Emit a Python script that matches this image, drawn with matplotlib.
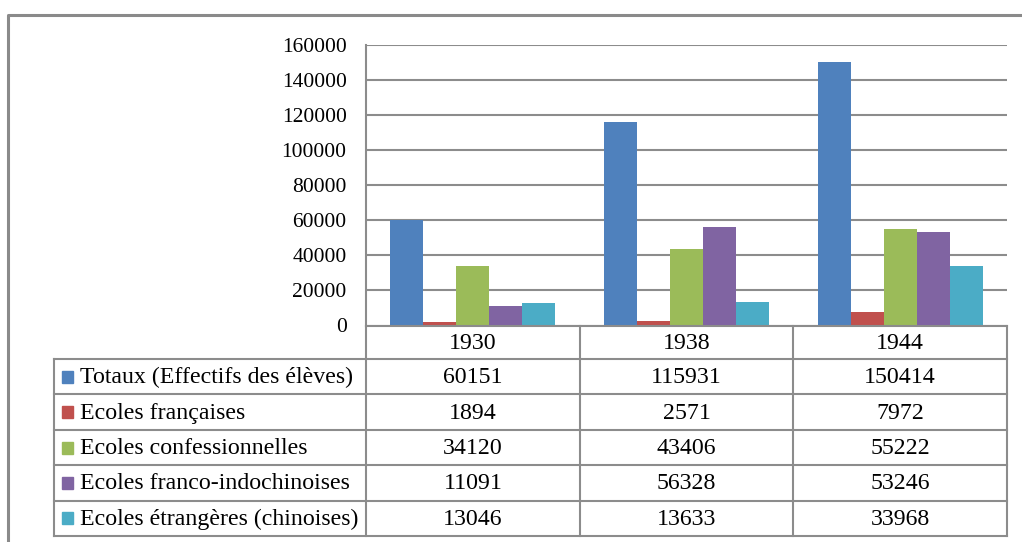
import matplotlib
matplotlib.use("Agg")
import matplotlib.pyplot as plt
from matplotlib.lines import Line2D
from matplotlib.patches import Rectangle
import numpy as np

years = ["1930", "1938", "1944"]
series_names = [
    "Totaux (Effectifs des élèves)",
    "Ecoles françaises",
    "Ecoles confessionnelles",
    "Ecoles franco-indochinoises",
    "Ecoles étrangères (chinoises)",
]
totaux = [60151, 115931, 150414]
francaises = [1894, 2571, 7972]
confessionnelles = [34120, 43406, 55222]
franco_indochinoises = [11091, 56328, 53246]
etrangeres = [13046, 13633, 33968]
series_values = [totaux, francaises, confessionnelles, franco_indochinoises, etrangeres]
colors = ["#4F81BD", "#C0504D", "#9BBB59", "#8064A2", "#4BACC6"]
yticks = [0, 20000, 40000, 60000, 80000, 100000, 120000, 140000, 160000]

W, H = 1022, 542
plt.rcParams['font.family'] = ['Liberation Serif', 'DejaVu Serif']
fig = plt.figure(figsize=(W / 100, H / 100), dpi=100)
fig.patch.set_facecolor("white")

def fx(x):
    return x / W

def fy(y):
    return 1 - y / H

gray = "#8C8C8C"
FS_TICK = 15.5
FS_TAB = 17.2

# plot area
x0, x1 = 366, 1007
ytop, ybot = 44.7, 325.5
ax = fig.add_axes([fx(x0), fy(ybot), fx(x1) - fx(x0), (ybot - ytop) / H])
n = len(series_names)
bw = 0.1544
xs = np.arange(len(years))
for i, (vals, c) in enumerate(zip(series_values, colors)):
    ax.bar(xs + (i - (n - 1) / 2) * bw, vals, width=bw, color=c, zorder=3, linewidth=0)
ax.set_xlim(-0.5, len(years) - 0.5)
ax.set_ylim(0, 160000)
ax.set_yticks(yticks)
ax.set_yticklabels([str(v) for v in yticks], fontsize=FS_TICK)
ax.tick_params(axis='y', length=0, pad=14)
ax.set_xticks([])
ax.yaxis.grid(True, color=gray, linewidth=1.5, zorder=0)
for s in ["top", "right", "bottom"]:
    ax.spines[s].set_visible(False)
ax.spines["left"].set_color(gray)
ax.spines["left"].set_linewidth(1.5)

# data table
col_x = [x0 + (x1 - x0) * k / len(years) for k in range(len(years) + 1)]
left_x = 54
row_y = [ybot, 359, 394.4, 429.8, 465.2, 500.6, 536]
lw = 1.5

def hline(y, xa, xb):
    fig.add_artist(Line2D([fx(xa), fx(xb)], [fy(y), fy(y)], color=gray, lw=lw))

def vline(x, ya, yb):
    fig.add_artist(Line2D([fx(x), fx(x)], [fy(ya), fy(yb)], color=gray, lw=lw))

hline(row_y[0], x0, x1)
for y in row_y[1:]:
    hline(y, left_x, x1)
for x in col_x:
    vline(x, row_y[0], row_y[-1])
vline(left_x, row_y[1], row_y[-1])

# header years
for j, yr in enumerate(years):
    fig.text(fx((col_x[j] + col_x[j + 1]) / 2), fy((row_y[0] + row_y[1]) / 2 + 1), yr,
             ha="center", va="center", fontsize=FS_TAB)

# rows
for i, name in enumerate(series_names):
    yc = (row_y[i + 1] + row_y[i + 2]) / 2
    fig.add_artist(Rectangle((fx(62), fy(yc + 6)), 11 / W, 12 / H, color=colors[i],
                             transform=fig.transFigure))
    fig.text(fx(80), fy(yc + 1), name, ha="left", va="center", fontsize=FS_TAB)
    for j in range(len(years)):
        fig.text(fx((col_x[j] + col_x[j + 1]) / 2), fy(yc + 1), str(series_values[i][j]),
                 ha="center", va="center", fontsize=FS_TAB)

# outer frame
fig.add_artist(Line2D([fx(8), fx(8), fx(W + 5)], [fy(H + 5), fy(15), fy(15)],
                      color="#8A8A8A", lw=2.2))

fig.savefig("out.png", dpi=100, facecolor="white")
